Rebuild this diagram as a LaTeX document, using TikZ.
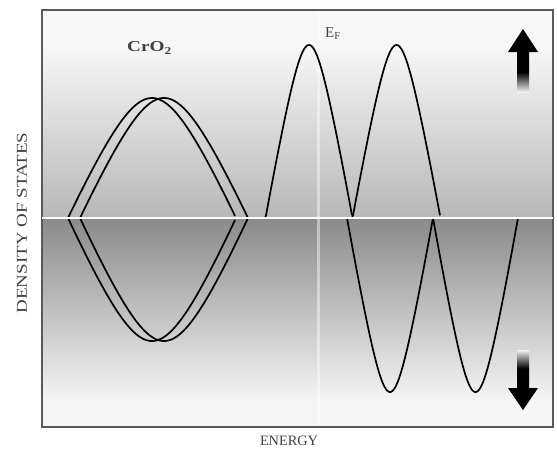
\documentclass[tikz,border=0pt]{standalone}
\usepackage{fontspec}
\setmainfont{Liberation Serif}
\usepackage{graphicx}
\begin{document}
\begin{tikzpicture}[x=1pt,y=-1pt,
  curve/.style={line width=1.7pt, black, line join=round},
  lbl/.style={inner sep=0pt, text=black!75},
  declare function={uu(\x,\c,\h)=min(abs((\x-\c)/\h),1);
    hump(\x,\c,\h,\e)=(sqrt(1+\e*\e)-sqrt(uu(\x,\c,\h)*uu(\x,\c,\h)+\e*\e))/(sqrt(1+\e*\e)-\e);}]
\useasboundingbox (0,0) rectangle (557,455);
\fill[white] (0,0) rectangle (557,455);
% background shading
\fill[black!3] (42,10) rectangle (553,45);
\shade[top color=black!3, middle color=black!15, bottom color=black!28] (42,45) rectangle (553,218);
\shade[top color=black!46, middle color=black!30, bottom color=black!4] (42,218) rectangle (553,400);
\fill[black!4] (42,400) rectangle (553,427);
% faint vertical stripe
\draw[white, opacity=0.45, line width=3pt] (318,10) -- (318,427);
% frame
\draw[black!65, line width=1.6pt] (42,10) rectangle (553,427);
% CrO2 curves
\draw[curve] plot[domain=68:235, samples=100] (\x, {218-120*hump(\x,152,84,0.5)});
\draw[curve] plot[domain=68:235, samples=100] (\x, {218+123*hump(\x,152,84,0.5)});
\draw[curve] plot[domain=80:248, samples=100] (\x, {218-120*hump(\x,164,84,0.5)});
\draw[curve] plot[domain=80:248, samples=100] (\x, {218+123*hump(\x,164,84,0.5)});
% Fermi-level curves, spin up
\draw[curve] plot[domain=265:352, samples=90] (\x, {218-173*hump(\x,309,43.5,0.38)});
\draw[curve] plot[domain=352:440, samples=90] (\x, {218-173*hump(\x,396.5,44,0.38)});
% spin down
\draw[curve] plot[domain=347:433, samples=90] (\x, {218+174*hump(\x,390,43,0.38)});
\draw[curve] plot[domain=433:518, samples=90] (\x, {218+174*hump(\x,475.5,42.5,0.38)});
% white midline
\draw[white, line width=2.2pt] (42,218) -- (553,218);
% up arrow
\fill[black] (523,29) -- (538,52) -- (529,52) -- (529,72) -- (517,72) -- (517,52) -- (508,52) -- cycle;
\shade[top color=black, bottom color=black!5] (517,72) rectangle (529,92);
% down arrow
\fill[black] (523,410) -- (538,388) -- (529,388) -- (529,368) -- (517,368) -- (517,388) -- (508,388) -- cycle;
\shade[top color=black!5, bottom color=black] (517,350) rectangle (529,368.5);
% labels
\node[lbl, font=\bfseries, anchor=west] (cro) at (127,48) {\resizebox{45pt}{10pt}{CrO\textsubscript{2}}};
\node[lbl, anchor=west, font=\fontsize{15}{15}\selectfont] (ef) at (325,34) {E\textsubscript{F}};
\node[lbl] (en) at (289,441) {\resizebox{58pt}{9.5pt}{ENERGY}};
\node[lbl, rotate=90] (dos) at (22,223) {\resizebox{181pt}{10pt}{DENSITY OF STATES}};
\end{tikzpicture}
\end{document}
